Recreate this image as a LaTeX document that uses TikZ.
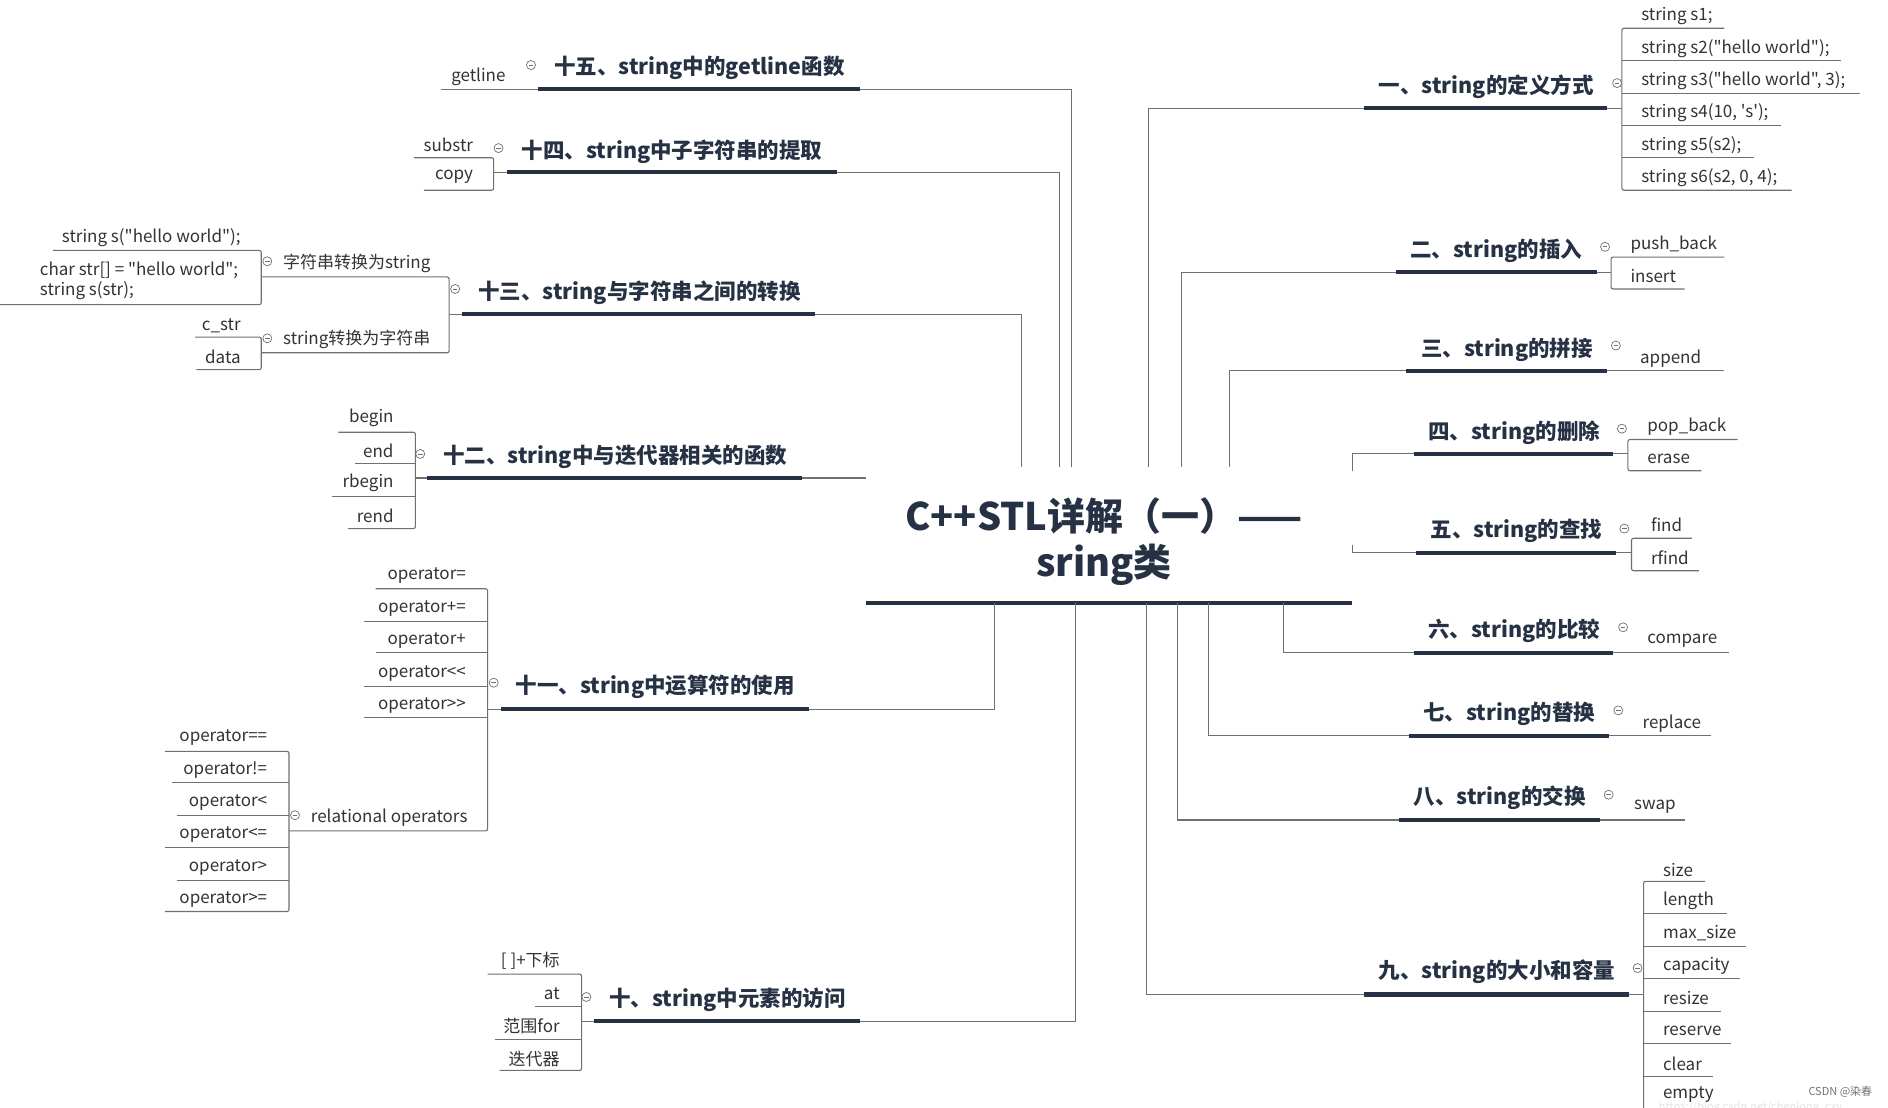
\documentclass[tikz,border=0pt]{standalone}
\usepackage{fontspec}
\newfontfamily\cjk{Noto Sans CJK SC}
\definecolor{navy}{HTML}{263244}
\definecolor{lg}{HTML}{707070}
\definecolor{txt}{HTML}{333333}
\tikzset{
  ttl/.style={font=\cjk\bfseries\fontsize{21.5}{25}\selectfont, text=navy, inner sep=0, anchor=west, yshift=-2.6pt},
  rootnode/.style={font=\cjk\bfseries\fontsize{38}{46}\selectfont, text=navy, inner sep=0, align=center, yshift=-3pt},
  leaf/.style={font=\cjk\fontsize{17}{24}\selectfont, text=txt, inner sep=0, yshift=-2.6pt},
  bar/.style={line width=4.2pt, draw=navy},
  ln/.style={line width=1.1pt, draw=lg},
  fold/.style={circle, draw=lg, line width=0.7pt, minimum size=9pt, inner sep=0,
    path picture={\draw[lg, line width=0.7pt] ([xshift=-2.3pt]path picture bounding box.center) -- ([xshift=2.3pt]path picture bounding box.center);}},
}
\begin{document}
\begin{tikzpicture}[x=1.2041pt,y=-1.2041pt]
\useasboundingbox[fill=white] (0,0) rectangle (1568,920);
\clip (0,0) rectangle (1568,920);

% ---------- root ----------
\node[rootnode] (root) at (917,447) {C++STL详解（一）——\\sring类};
\coordinate (rootL) at (719,501);
\coordinate (rootR) at (1123,501);
\draw[bar] (rootL) -- (rootR);

% ---------- right side ----------
% 1
\node[ttl] (t1) at (1145,70) {一、string的定义方式};
\coordinate (b1a) at (1133,90); \coordinate (b1b) at (1335,90);
\draw[bar] (b1a) -- (b1b);
\draw[ln] (954,388) |- (b1a);
\node[fold] (f1) at (1343,69) {};
\draw[ln] (b1b) -- (1347,90);
\draw[ln, rounded corners=2pt] (1432,23.5) -- (1347,23.5) -- (1347,158) -- (1488,158);
\draw[ln] (1347,50.4) -- (1529,50.4);
\draw[ln] (1347,77.5) -- (1545,77.5);
\draw[ln] (1347,104) -- (1479,104);
\draw[ln] (1347,131) -- (1457,131);
\node[leaf, anchor=west] (c11) at (1363,11) {string s1;};
\node[leaf, anchor=west] (c12) at (1363,38) {string s2("hello world");};
\node[leaf, anchor=west] (c13) at (1363,65) {string s3("hello world", 3);};
\node[leaf, anchor=west] (c14) at (1363,91.5) {string s4(10, \char"0027 s\char"0027);};
\node[leaf, anchor=west] (c15) at (1363,118.5) {string s5(s2);};
\node[leaf, anchor=west] (c16) at (1363,145.5) {string s6(s2, 0, 4);};

% 2
\node[ttl] (t2) at (1171,206) {二、string的插入};
\coordinate (b2a) at (1159,226); \coordinate (b2b) at (1326,226);
\draw[bar] (b2a) -- (b2b);
\draw[ln] (981,388) |- (b2a);
\node[fold] (f2) at (1333,205) {};
\draw[ln] (b2b) -- (1338,226);
\draw[ln, rounded corners=2pt] (1432,213.5) -- (1338,213.5) -- (1338,240) -- (1399,240);
\node[leaf, anchor=west] (c21) at (1354,201) {push\_back};
\node[leaf, anchor=west] (c22) at (1354,227) {insert};

% 3
\node[ttl] (t3) at (1180,288) {三、string的拼接};
\coordinate (b3a) at (1168,308); \coordinate (b3b) at (1335,308);
\draw[bar] (b3a) -- (b3b);
\draw[ln] (1021,388) |- (b3a);
\node[fold] (f3) at (1342,287) {};
\draw[ln] (b3b) -- (1432,308);
\node[leaf, anchor=west] (c31) at (1362,296) {append};

% 4
\node[ttl] (t4) at (1186,357) {四、string的删除};
\coordinate (b4a) at (1174,377); \coordinate (b4b) at (1340,377);
\draw[bar] (b4a) -- (b4b);
\draw[ln] (1123,391) |- (b4a);
\node[fold] (f4) at (1347,356) {};
\draw[ln] (b4b) -- (1352,377);
\draw[ln, rounded corners=2pt] (1443,365) -- (1352,365) -- (1352,391) -- (1413,391);
\node[leaf, anchor=west] (c41) at (1368,352) {pop\_back};
\node[leaf, anchor=west] (c42) at (1368,379) {erase};

% 5
\node[ttl] (t5) at (1188,439) {五、string的查找};
\coordinate (b5a) at (1176,459); \coordinate (b5b) at (1342,459);
\draw[bar] (b5a) -- (b5b);
\draw[ln] (1123,453) |- (b5a);
\node[fold] (f5) at (1349,439) {};
\draw[ln] (b5b) -- (1355,459);
\draw[ln, rounded corners=2pt] (1405,447) -- (1355,447) -- (1355,474) -- (1411,474);
\node[leaf, anchor=west] (c51) at (1371,434) {find};
\node[leaf, anchor=west] (c52) at (1371,461) {rfind};

% 6
\node[ttl] (t6) at (1186,522) {六、string的比较};
\coordinate (b6a) at (1174,542); \coordinate (b6b) at (1340,542);
\draw[bar] (b6a) -- (b6b);
\draw[ln] (1066,501) |- (b6a);
\node[fold] (f6) at (1348,521) {};
\draw[ln] (b6b) -- (1436,542);
\node[leaf, anchor=west] (c61) at (1368,530) {compare};

% 7
\node[ttl] (t7) at (1182,591) {七、string的替换};
\coordinate (b7a) at (1170,611); \coordinate (b7b) at (1336,611);
\draw[bar] (b7a) -- (b7b);
\draw[ln] (1004,501) |- (b7a);
\node[fold] (f7) at (1344,590) {};
\draw[ln] (b7b) -- (1421,611);
\node[leaf, anchor=west] (c71) at (1364,599) {replace};

% 8
\node[ttl] (t8) at (1174,660) {八、string的交换};
\coordinate (b8a) at (1162,681); \coordinate (b8b) at (1329,681);
\draw[bar] (b8a) -- (b8b);
\draw[ln] (978,501) |- (b8a);
\node[fold] (f8) at (1336,660) {};
\draw[ln] (b8b) -- (1399,681);
\node[leaf, anchor=west] (c81) at (1357,668) {swap};

% 9
\node[ttl] (t9) at (1145,805) {九、string的大小和容量};
\coordinate (b9a) at (1133,826); \coordinate (b9b) at (1353,826);
\draw[bar] (b9a) -- (b9b);
\draw[ln] (952,501) |- (b9a);
\node[fold] (f9) at (1360,804) {};
\draw[ln] (b9b) -- (1365,826);
\draw[ln, rounded corners=2pt] (1416,732) -- (1365,732) -- (1365,930);
\draw[ln] (1365,759) -- (1434,759);
\draw[ln] (1365,786) -- (1450,786);
\draw[ln] (1365,813) -- (1445,813);
\draw[ln] (1365,840) -- (1429,840);
\draw[ln] (1365,867) -- (1438,867);
\draw[ln] (1365,894) -- (1423,894);
\node[leaf, anchor=west] (c91) at (1381,720) {size};
\node[leaf, anchor=west] (c92) at (1381,746) {length};
\node[leaf, anchor=west] (c93) at (1381,773) {max\_size};
\node[leaf, anchor=west] (c94) at (1381,800) {capacity};
\node[leaf, anchor=west] (c95) at (1381,827) {resize};
\node[leaf, anchor=west] (c96) at (1381,854) {reserve};
\node[leaf, anchor=west] (c97) at (1381,881) {clear};
\node[leaf, anchor=west] (c98) at (1381,907) {empty};

% ---------- left side ----------
% 15
\node[ttl] (t15) at (460,54) {十五、string中的getline函数};
\coordinate (b15a) at (447,74); \coordinate (b15b) at (714,74);
\draw[bar] (b15a) -- (b15b);
\draw[ln] (890,388) |- (b15b);
\node[fold] (f15) at (441,54) {};
\draw[ln] (366,74) -- (b15a);
\node[leaf, anchor=east] (c151) at (420,62) {getline};

% 14
\node[ttl] (t14) at (433,124) {十四、string中子字符串的提取};
\coordinate (b14a) at (421,143); \coordinate (b14b) at (695,143);
\draw[bar] (b14a) -- (b14b);
\draw[ln] (880,388) |- (b14b);
\node[fold] (f14) at (414,123) {};
\draw[ln] (410,143) -- (b14a);
\draw[ln, rounded corners=2pt] (344,131) -- (410,131) -- (410,158) -- (352,158);
\node[leaf, anchor=east] (c141) at (393,118) {substr};
\node[leaf, anchor=east] (c142) at (393,145) {copy};

% 13
\node[ttl] (t13) at (397,241) {十三、string与字符串之间的转换};
\coordinate (b13a) at (384,261); \coordinate (b13b) at (677,261);
\draw[bar] (b13a) -- (b13b);
\draw[ln] (848,388) |- (b13b);
\node[fold] (f13) at (378,240) {};
\draw[ln] (373,261) -- (b13a);
\draw[ln, rounded corners=2pt] (217,230) -- (373,230) -- (373,293) -- (217,293);
\node[leaf, anchor=west] (c131) at (235,217) {字符串转换为string};
\node[fold] (f131) at (222,217) {};
\node[leaf, anchor=west] (c132) at (235,280) {string转换为字符串};
\node[fold] (f132) at (222,281) {};
\draw[ln, rounded corners=2pt] (44,208) -- (217,208) -- (217,253) -- (0,253);
\node[leaf, anchor=east] (c1311) at (200,195) {string s("hello world");};
\node[leaf, anchor=west, align=left, font=\cjk\fontsize{17}{19.5}\selectfont] (c1312) at (33,231) {char str[] = "hello world";\\string s(str);};
\draw[ln, rounded corners=2pt] (162,280) -- (217,280) -- (217,307) -- (163,307);
\node[leaf, anchor=east] (c1321) at (200,268) {c\_str};
\node[leaf, anchor=east] (c1322) at (200,294) {data};

% 12
\node[ttl] (t12) at (368,377) {十二、string中与迭代器相关的函数};
\coordinate (b12a) at (355,397); \coordinate (b12b) at (666,397);
\draw[bar] (b12a) -- (b12b);
\draw[ln] (b12b) -- (719,397);
\node[fold] (f12) at (349,377) {};
\draw[ln] (345,397) -- (b12a);
\draw[ln, rounded corners=2pt] (281,359) -- (345,359) -- (345,439) -- (289,439);
\draw[ln] (295,385) -- (345,385);
\draw[ln] (276,412) -- (345,412);
\node[leaf, anchor=east] (c121) at (327,345) {begin};
\node[leaf, anchor=east] (c122) at (327,372) {end};
\node[leaf, anchor=east] (c123) at (327,399) {rbegin};
\node[leaf, anchor=east] (c124) at (327,426) {rend};

% 11
\node[ttl] (t11) at (428,568) {十一、string中运算符的使用};
\coordinate (b11a) at (416,589); \coordinate (b11b) at (672,589);
\draw[bar] (b11a) -- (b11b);
\draw[ln] (826,501) |- (b11b);
\node[fold] (f11) at (410,567) {};
\draw[ln] (405,589) -- (b11a);
\draw[ln, rounded corners=2pt] (312,489) -- (405,489) -- (405,690) -- (240,690);
\draw[ln] (302,516) -- (405,516);
\draw[ln] (312,542) -- (405,542);
\draw[ln] (302,570) -- (405,570);
\draw[ln] (302,596) -- (405,596);
\node[leaf, anchor=east] (c111) at (387,476) {operator=};
\node[leaf, anchor=east] (c112) at (387,503) {operator+=};
\node[leaf, anchor=east] (c113) at (387,530) {operator+};
\node[leaf, anchor=east] (c114) at (387,557) {operator<<};
\node[leaf, anchor=east] (c115) at (387,584) {operator>>};
\node[leaf, anchor=west] (c116) at (258,677) {relational operators};
\node[fold] (f116) at (245,677) {};
\draw[ln, rounded corners=2pt] (137,624) -- (240,624) -- (240,757) -- (137,757);
\draw[ln] (143,650) -- (240,650);
\draw[ln] (147,677) -- (240,677);
\draw[ln] (137,704) -- (240,704);
\draw[ln] (147,731) -- (240,731);
\node[leaf, anchor=east] (c1161) at (222,610) {operator==};
\node[leaf, anchor=east] (c1162) at (222,637) {operator!=};
\node[leaf, anchor=east] (c1163) at (222,664) {operator<};
\node[leaf, anchor=east] (c1164) at (222,691) {operator<=};
\node[leaf, anchor=east] (c1165) at (222,718) {operator>};
\node[leaf, anchor=east] (c1166) at (222,745) {operator>=};

% 10
\node[ttl] (t10) at (506,828) {十、string中元素的访问};
\coordinate (b10a) at (493,848); \coordinate (b10b) at (714,848);
\draw[bar] (b10a) -- (b10b);
\draw[ln] (893,501) |- (b10b);
\node[fold] (f10) at (487,828) {};
\draw[ln] (483,848) -- (b10a);
\draw[ln, rounded corners=2pt] (405,809) -- (483,809) -- (483,889) -- (415,889);
\draw[ln] (444,836) -- (483,836);
\draw[ln] (411,863) -- (483,863);
\node[leaf, anchor=east] (c101) at (465,796) {[ ]+下标};
\node[leaf, anchor=east] (c102) at (465,823) {at};
\node[leaf, anchor=east] (c103) at (465,850) {范围for};
\node[leaf, anchor=east] (c104) at (465,877) {迭代器};

% watermark
\node[font=\cjk\fontsize{11}{12}\selectfont, text=black!55, inner sep=0, anchor=east] (wm) at (1555,907) {CSDN @染春};
\node[font=\cjk\fontsize{11}{12}\selectfont, text=black!10, inner sep=0, anchor=east] (url) at (1530,920) {https://blog.csdn.net/chenlong\_cxy};
\end{tikzpicture}
\end{document}
